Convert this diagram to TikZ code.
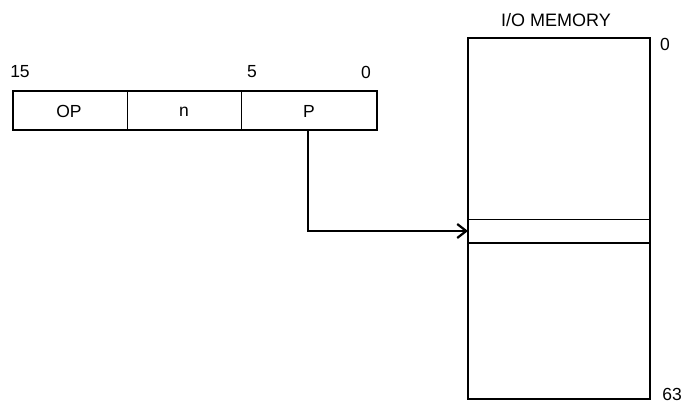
\documentclass[tikz,border=0pt]{standalone}
\usepackage{fontspec}
\setmainfont{Liberation Sans}
\usetikzlibrary{arrows.meta}
\begin{document}
\begin{tikzpicture}[x=1pt,y=-1pt,
  lbl/.style={inner sep=0pt,font=\fontsize{17.5}{20}\selectfont},
  thick line/.style={line width=2pt},
  thin line/.style={line width=1pt}]
\useasboundingbox (0,0) rectangle (685,403);
% instruction word
\draw[thick line] (13,91) rectangle (377,130);
\draw[thin line] (127,91) -- (127,130);
\draw[thin line] (241,91) -- (241,130);
\node[lbl] (op) at (69,111) {OP};
\node[lbl] (n) at (184,112) {n};
\node[lbl] (p) at (309,111) {P};
\node[lbl] (b15) at (20,72) {15};
\node[lbl] (b5) at (252,72) {5};
\node[lbl] (b0) at (366,72) {0};
\coordinate (pbot) at (308,130);
% memory
\draw[thick line] (468,38) rectangle (650,399);
\draw[thin line] (468,220) -- (650,220);
\draw[line width=1.3pt] (468,243) -- (650,243);
\coordinate (slot) at (468,231);
\node[lbl,font=\fontsize{18}{20}\selectfont] (title) at (556,20) {I/O MEMORY};
\node[lbl] (m0) at (665,44) {0};
\node[lbl] (m63) at (672,394) {63};
% arrow
\draw[thick line,-{Straight Barb[length=9pt,width=14pt,line width=2.2pt]}] (pbot) |- (slot);
\end{tikzpicture}
\end{document}
